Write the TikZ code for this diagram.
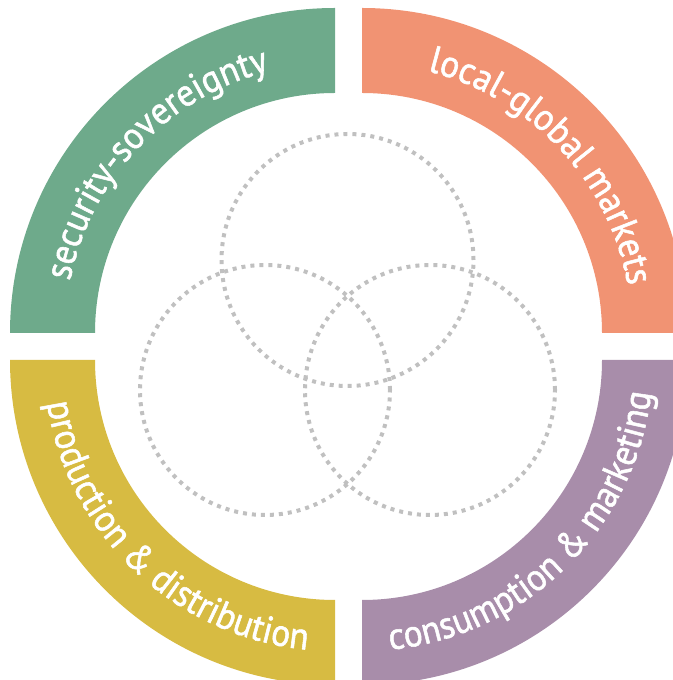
\documentclass[tikz,border=0pt]{standalone}
\usepackage{fontspec}
\newfontfamily\lbl{PT Sans}[FakeBold=1.4,FakeStretch=0.93]
\usetikzlibrary{decorations.text}
\definecolor{cgreen}{RGB}{110,170,139}
\definecolor{corange}{RGB}{241,147,115}
\definecolor{cyellow}{RGB}{215,187,66}
\definecolor{cpurple}{RGB}{168,141,170}
\definecolor{cdot}{RGB}{192,192,192}
\tikzset{
  dotring/.style={draw=cdot, line width=4pt, dash pattern=on 4pt off 5pt},
  arclabel/.style={decorate, decoration={text along path, text align=center,
     text={|\lbl\fontsize{38}{38}\selectfont\color{white}|#1}}}
}
\begin{document}
\begin{tikzpicture}[x=1pt,y=1pt]
\useasboundingbox (0,0) rectangle (672,680);
\coordinate (cg) at (335,347);
\coordinate (co) at (362,347);
\coordinate (cy) at (335,320);
\coordinate (cp) at (362,320);
% quadrants
\fill[cgreen] (cg) ++(180:325pt) arc[start angle=180,end angle=90,radius=325pt] -- ++(0,-85pt) arc[start angle=90,end angle=180,radius=240pt] -- cycle;
\fill[corange] (co) ++(90:325pt) arc[start angle=90,end angle=0,radius=325pt] -- ++(-85pt,0) arc[start angle=0,end angle=90,radius=240pt] -- cycle;
\fill[cyellow] (cy) ++(180:325pt) arc[start angle=180,end angle=270,radius=325pt] -- ++(0,85pt) arc[start angle=270,end angle=180,radius=240pt] -- cycle;
\fill[cpurple] (cp) ++(270:325pt) arc[start angle=270,end angle=360,radius=325pt] -- ++(-85pt,0) arc[start angle=0,end angle=-90,radius=240pt] -- cycle;
% labels
\path[arclabel={security-sovereignty}] (cg) ++(181.5:270pt) arc[start angle=181.5,end angle=91.5,radius=270pt];
\path[arclabel={local-global markets}] (co) ++(88:270pt) arc[start angle=88,end angle=-2,radius=270pt];
\path[arclabel={production {\&} distribution}] (cy) ++(181.5:291pt) arc[start angle=181.5,end angle=271.5,radius=291pt];
\path[arclabel={consumption {\&} marketing}] (cp) ++(269.5:291pt) arc[start angle=269.5,end angle=359.5,radius=291pt];
% dotted circles
\node[dotring, circle, minimum size=252pt, inner sep=0pt] (top) at (347.5,420) {};
\node[dotring, circle, minimum size=250pt, inner sep=0pt] (left) at (265,290) {};
\node[dotring, circle, minimum size=250pt, inner sep=0pt] (right) at (430,290) {};
\end{tikzpicture}
\end{document}
